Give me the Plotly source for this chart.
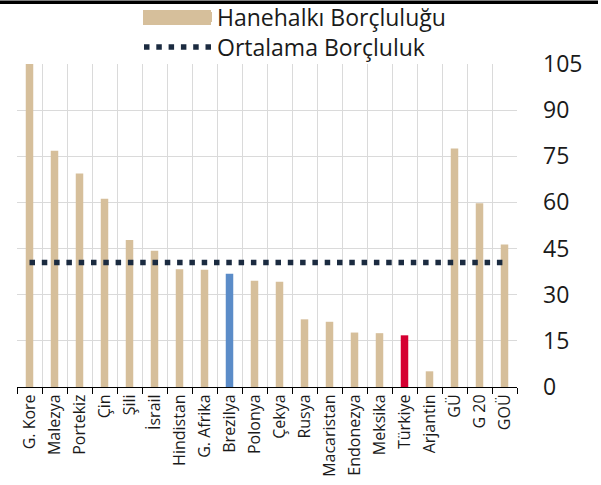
import plotly.graph_objects as go

categories = ["G. Kore", "Malezya", "Portekiz", "Çin", "Şili", "İsrail", "Hindistan",
              "G. Afrika", "Brezilya", "Polonya", "Çekya", "Rusya", "Macaristan",
              "Endonezya", "Meksika", "Türkiye", "Arjantin", "GÜ", "G 20", "GOÜ"]
household_debt = [105, 76.8, 69.4, 61.2, 47.8, 44.3, 38.3, 38.1, 36.8, 34.5, 34.2,
                  22.0, 21.2, 17.7, 17.5, 16.8, 5.1, 77.5, 59.7, 46.3]
average_debt = [40.5] * len(categories)
y_ticks = [0, 15, 30, 45, 60, 75, 90, 105]

TAN = "#D6BF9B"
BLUE = "#5B8CC8"
RED = "#D50032"
NAVY = "#1B2B40"
highlight = {"Brezilya": BLUE, "Türkiye": RED}
bar_colors = [highlight.get(c, TAN) for c in categories]

FONT = "Open Sans"
ML, MR, MT, MB = 17, 84, 64, 98
PLOT_W = 601 - ML - MR
PLOT_H = 485 - MT - MB


def py(px_from_top):
    """paper y for a pixel row measured from the top of the figure"""
    return 1 + (MT - px_from_top) / PLOT_H


def px(px_from_left):
    """paper x for a pixel column measured from the left of the figure"""
    return (px_from_left - ML) / PLOT_W


fig = go.Figure()
fig.add_trace(go.Bar(
    x=categories, y=household_debt, marker_color=bar_colors, marker_line_width=0,
    width=0.3, showlegend=False, name="Hanehalkı Borçluluğu"))
# legend entry for the bar series
fig.add_trace(go.Scatter(
    x=[None], y=[None], mode="lines", line=dict(color=TAN, width=15),
    name="Hanehalkı Borçluluğu", legend="legend"))
fig.add_trace(go.Scatter(
    x=categories, y=average_debt, mode="lines",
    line=dict(color=NAVY, width=5.5, dash="5.5px,6.8px"),
    name="Ortalama Borçluluk", legend="legend2"))

legend_common = dict(x=px(139), xanchor="left", yanchor="middle",
                     font=dict(size=23, color="#1a1a1a"),
                     bgcolor="rgba(0,0,0,0)", itemwidth=68)

fig.update_layout(
    width=601, height=485,
    margin=dict(l=ML, r=MR, t=MT, b=MB, autoexpand=False),
    paper_bgcolor="white", plot_bgcolor="white",
    font=dict(family=FONT, color="#1a1a1a"),
    legend=dict(y=py(17), **legend_common),
    legend2=dict(y=py(47), **legend_common),
    shapes=[
        dict(type="rect", xref="paper", yref="paper", layer="above",
             x0=px(0), x1=px(598), y0=py(0.5), y1=py(3.5),
             fillcolor="black", line=dict(width=0)),
        dict(type="rect", xref="paper", yref="paper", layer="below",
             x0=px(143), x1=px(211), y0=py(10), y1=py(25),
             fillcolor=TAN, line=dict(width=0)),
    ],
)

fig.update_xaxes(
    type="category", tickson="boundaries", showgrid=True, gridcolor="#DADADA",
    gridwidth=1, showline=True, linecolor="black", linewidth=1,
    ticks="outside", ticklen=6, tickcolor="black", tickangle=-90,
    tickfont=dict(size=16, color="#1a1a1a"), range=[-0.5, 19.5], automargin=False)
fig.update_yaxes(
    side="right", range=[0, 105], tickvals=y_ticks, showgrid=True,
    gridcolor="#DADADA", gridwidth=1, zeroline=False, showline=False,
    tickfont=dict(size=23, color="#1a1a1a"), ticklabelstandoff=25, automargin=False)

post = (
    "document.body.style.margin='0';"
    "document.body.style.overflow='hidden';"
    "var bar=document.createElement('div');"
    "bar.style.cssText='position:fixed;left:0;top:1px;width:598px;height:3px;"
    "background:#000;z-index:10;pointer-events:none;';"
    "document.body.appendChild(bar);"
)
fig.write_html("out.html", config={"displayModeBar": False}, post_script=post)
